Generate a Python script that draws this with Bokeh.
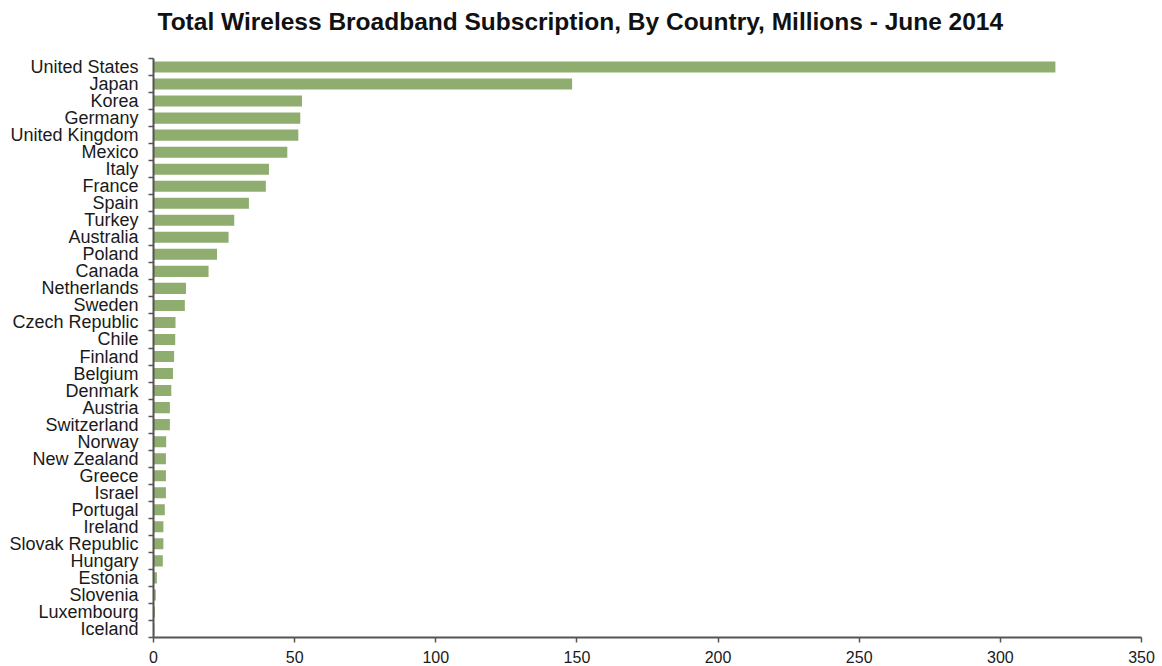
from bokeh.plotting import figure
from bokeh.models import FixedTicker, Range1d, ColumnDataSource, Title
from bokeh.embed import file_html
from bokeh.resources import INLINE

countries = [
    "United States", "Japan", "Korea", "Germany", "United Kingdom", "Mexico",
    "Italy", "France", "Spain", "Turkey", "Australia", "Poland", "Canada",
    "Netherlands", "Sweden", "Czech Republic", "Chile", "Finland", "Belgium",
    "Denmark", "Austria", "Switzerland", "Norway", "New Zealand", "Greece",
    "Israel", "Portugal", "Ireland", "Slovak Republic", "Hungary", "Estonia",
    "Slovenia", "Luxembourg", "Iceland",
]
subscriptions = [
    319.5, 148.3, 52.6, 52.0, 51.3, 47.4,
    40.9, 39.8, 33.8, 28.6, 26.6, 22.5, 19.5,
    11.5, 11.1, 7.8, 7.7, 7.3, 6.9,
    6.3, 5.8, 5.8, 4.5, 4.4, 4.4,
    4.4, 4.0, 3.5, 3.5, 3.3, 1.2,
    0.8, 0.5, 0.3,
]
x_ticks = [0, 50, 100, 150, 200, 250, 300, 350]

n = len(countries)
# first country at the top
ypos = [n - 1 - i for i in range(n)]
source = ColumnDataSource(dict(y=ypos, value=subscriptions, country=countries))

p = figure(
    width=1162, height=666,
    x_range=Range1d(0, 350), y_range=Range1d(-0.5, n - 0.5),
    output_backend="svg", toolbar_location=None,
    min_border_left=153, min_border_right=21, min_border_top=58, min_border_bottom=29,
    title="Total Wireless Broadband Subscription, By Country, Millions - June 2014",
)
p.title.text_font = "Liberation Sans"
p.title.text_font_size = "24.5px"
p.title.text_font_style = "bold"
p.title.text_color = "#111111"
p.title.align = "left"
p.title.vertical_align = "bottom"
p.title.offset = 4
p.title.standoff = 0

# blank band between the heading and the plot frame
p.add_layout(Title(text=" ", text_font_size="12px", standoff=8), "above")

p.hbar(y="y", right="value", left=0, height=0.65, source=source,
       fill_color="#8FAD6F", line_color=None)

p.outline_line_color = None
p.grid.grid_line_color = None
p.background_fill_color = "white"
p.border_fill_color = "white"

# x axis
xa = p.xaxis[0]
xa.ticker = FixedTicker(ticks=x_ticks)
xa.axis_line_color = "#555555"
xa.axis_line_width = 2
xa.major_tick_line_color = "#555555"
xa.major_tick_line_width = 1.5
xa.major_tick_in = 0
xa.major_tick_out = 5
xa.minor_tick_line_color = None
xa.major_label_text_font = "Liberation Sans"
xa.major_label_text_font_size = "16px"
xa.major_label_text_color = "#1a1a1a"
xa.major_label_standoff = 8

# y axis: labels at bar centres, tick marks between categories
ya = p.yaxis[0]
ya.ticker = FixedTicker(ticks=ypos, minor_ticks=[k - 0.5 for k in range(n + 1)])
ya.major_label_overrides = {y: c for y, c in zip(ypos, countries)}
ya.axis_line_color = "#555555"
ya.axis_line_width = 2
ya.major_tick_line_color = None
ya.major_tick_in = 0
ya.major_tick_out = 0
ya.minor_tick_line_color = "#555555"
ya.minor_tick_line_width = 1.5
ya.minor_tick_in = 0
ya.minor_tick_out = 5
ya.major_label_text_font = "Liberation Sans"
ya.major_label_text_font_size = "18px"
ya.major_label_text_color = "#1a1a1a"
ya.major_label_standoff = 10

open("out.html", "w").write(file_html(p, INLINE))
